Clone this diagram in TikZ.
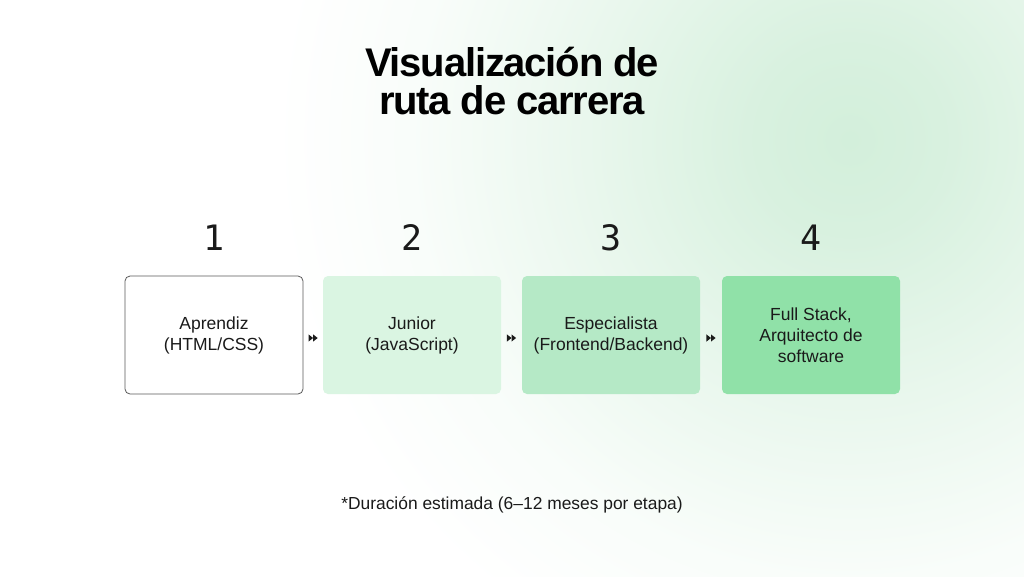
\documentclass[tikz,border=0pt]{standalone}
\usepackage{fontspec}
\setmainfont{Liberation Sans}
\newfontfamily\titlefont[LetterSpace=-3]{Liberation Sans}
\newfontfamily\numfont{DejaVu Sans Mono}
\usetikzlibrary{positioning}
\definecolor{gc}{HTML}{D3EFDB}
\definecolor{fillA}{HTML}{DAF5E2}
\definecolor{fillB}{HTML}{B5E9C6}
\definecolor{fillC}{HTML}{90E1A8}
\definecolor{ink}{HTML}{1A1A1A}
\definecolor{edge}{HTML}{5A5A5A}
\pgfdeclareradialshading{glow}{\pgfpoint{0bp}{0bp}}{color(0bp)=(gc); color(4bp)=(gc!88!white); color(11bp)=(gc!50!white); color(18bp)=(gc!15!white); color(24bp)=(white); color(50bp)=(white)}
\tikzset{
  stage/.style={rectangle, rounded corners=5pt, minimum width=178pt, minimum height=118pt,
    align=center, font=\fontsize{17.5}{21}\selectfont, text=ink, inner sep=0pt},
  num/.style={font=\numfont\fontsize{35}{35}\selectfont, text=ink, inner sep=0pt},
  dbl/.pic={\fill[ink] (-4.6,-3.6) -- (0,0) -- (-4.6,3.6) -- cycle;
            \fill[ink] (0,-3.6) -- (4.6,0) -- (0,3.6) -- cycle;}
}
\begin{document}
\begin{tikzpicture}[x=1pt,y=-1pt]
\useasboundingbox (0,0) rectangle (1024,576);
\fill[white] (0,0) rectangle (1024,576);
\begin{scope}
\clip (0,0) rectangle (1024,576);
\shade[shading=glow] (850,140) circle (600);
\end{scope}
\node[font=\titlefont\bfseries\fontsize{40}{38}\selectfont, text=black, align=center] (title) at (512,81) {Visualización de\\ruta de carrera};
\node[stage, draw=edge, fill=white, line width=0.8pt] (b1) at (214,335) {Aprendiz\\(HTML/CSS)};
\node[stage, fill=fillA] (b2) at (412,335) {Junior\\(JavaScript)};
\node[stage, fill=fillB] (b3) at (611,335) {Especialista\\(Frontend/Backend)};
\node[stage, fill=fillC] (b4) at (811,335) {Full Stack,\\Arquitecto de\\software};
\node[num] (n1) at (214,238) {1};
\node[num] (n2) at (412,238) {2};
\node[num] (n3) at (611,238) {3};
\node[num] (n4) at (811,238) {4};
\path ([yshift=-3pt]b1.east) -- coordinate[midway] (m1) ([yshift=-3pt]b2.west);
\path ([yshift=-3pt]b2.east) -- coordinate[midway] (m2) ([yshift=-3pt]b3.west);
\path ([yshift=-3pt]b3.east) -- coordinate[midway] (m3) ([yshift=-3pt]b4.west);
\pic at (m1) {dbl};
\pic at (m2) {dbl};
\pic at (m3) {dbl};
\node[font=\fontsize{17.4}{19}\selectfont, text=ink] (note) at (512,505) {*Duración estimada (6–12 meses por etapa)};
\end{tikzpicture}
\end{document}
